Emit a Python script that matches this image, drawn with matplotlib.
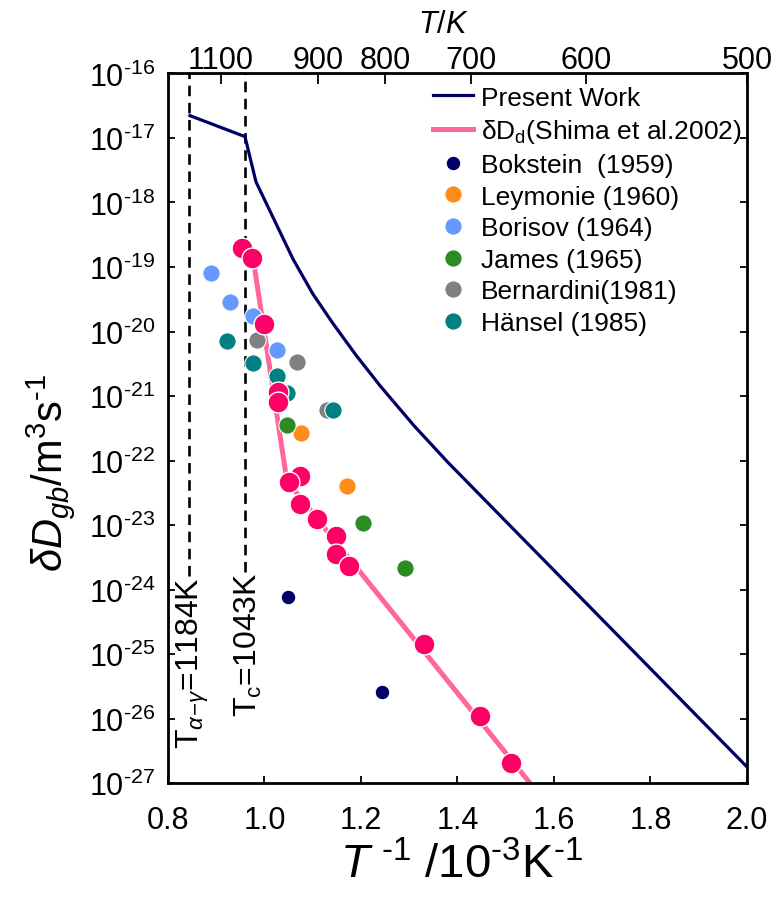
import numpy as np
import matplotlib
matplotlib.use('Agg')
import matplotlib.pyplot as plt

plt.rcParams['font.family'] = ['Liberation Sans', 'DejaVu Sans']
plt.rcParams['mathtext.fontset'] = 'custom'
plt.rcParams['mathtext.rm'] = 'Liberation Sans'
plt.rcParams['mathtext.it'] = 'Liberation Sans:italic'
plt.rcParams['mathtext.sf'] = 'Liberation Sans'
plt.rcParams['mathtext.bf'] = 'Liberation Sans:bold'

# present work curve (1000/T, delta*Dgb)
pw_x = [0.8456, 0.9596, 0.9824, 1.0591, 1.1005, 1.142, 1.19, 1.24,
        1.31, 1.38, 1.45, 2.0]
pw_y = [2.22e-17, 1.05e-17, 2.09e-18, 1.33e-19, 3.8e-20, 1.33e-20, 4.27e-21, 1.43e-21,
        3.46e-22, 9.4e-23, 2.75e-23, 1.78e-27]

# Shima et al. 2002 fit and points
shima_x = [0.975, 1.0466, 1.56]
shima_y = [1.6e-19, 4.8e-23, 8.1e-28]
shima_px = [0.9534, 0.9741, 0.9990, 1.0280, 1.0280, 1.0736, 1.0508, 1.0736,
            1.1088, 1.1482, 1.1482, 1.1751, 1.3306, 1.4466, 1.5109]
shima_py = [1.95e-19, 1.38e-19, 1.32e-20, 1.15e-21, 8.1e-22, 5.75e-23, 4.7e-23, 2.14e-23,
            1.23e-23, 6.8e-24, 3.55e-24, 2.3e-24, 1.41e-25, 1.1e-26, 2.04e-27]

# literature data
bokstein_x = [1.0487, 1.2435]
bokstein_y = [7.6e-25, 2.6e-26]
leymonie_x = [1.0756, 1.1710]
leymonie_y = [2.7e-22, 4.0e-23]
borisov_x = [0.8891, 0.9285, 0.9762, 1.0259]
borisov_y = [8.1e-20, 2.9e-20, 1.74e-20, 5.1e-21]
james_x = [1.0466, 1.2041, 1.2912]
james_y = [3.55e-22, 1.07e-23, 2.14e-24]
bernardini_x = [0.9845, 1.0674, 1.1295]
bernardini_y = [7.4e-21, 3.4e-21, 6.0e-22]
hansel_x = [0.9223, 0.9762, 1.0259, 1.0466, 1.1420]
hansel_y = [7.1e-21, 3.2e-21, 2.04e-21, 1.12e-21, 6.0e-22]

T_top = [1100, 900, 800, 700, 600, 500]
T_alpha_gamma = 1184
T_curie = 1043

fig = plt.figure(figsize=(7.82, 9.04), dpi=100)
ax = fig.add_axes([0.2148, 0.1327, 0.7404, 0.7849])

ax.plot(pw_x, pw_y, color='#000066', lw=2.3, zorder=2, label='Present Work')
ax.plot(shima_x, shima_y, color='#ff6699', lw=3.6, zorder=2,
        label='δD$_{\\rm d}$(Shima et al.2002)')

dots = [
    (bokstein_x, bokstein_y, '#000066', 10.5, 'Bokstein  (1959)'),
    (leymonie_x, leymonie_y, '#ff8c1a', 12.5, 'Leymonie (1960)'),
    (borisov_x, borisov_y, '#6699ff', 12.5, 'Borisov (1964)'),
    (james_x, james_y, '#2a8c22', 12.5, 'James (1965)'),
    (bernardini_x, bernardini_y, '#808080', 12.5, 'Bernardini(1981)'),
    (hansel_x, hansel_y, '#008080', 12.5, 'Hänsel (1985)'),
]
for xs, ys, c, ms, lab in dots:
    ax.plot(xs, ys, 'o', color=c, ms=ms, mec='white', mew=0.8, zorder=3, label=lab)

ax.plot(shima_px, shima_py, 'o', color='#ff0066', ms=15, mec='white', mew=1.0, zorder=5)

# transition temperatures
for T, lab, ytop in [(T_alpha_gamma, 'T$_{\\alpha\\!-\\!\\gamma}$=1184K', 1.6e-24),
                     (T_curie, 'T$_{\\rm c}$=1043K', 1.9e-24)]:
    xv = 1000.0 / T
    ax.plot([xv, xv], [ytop, 1e-16], color='k', ls=(0, (4, 2.5)), lw=1.9, zorder=1)
    ax.text(xv + 0.008, ytop, lab, rotation=90, ha='center', va='top', fontsize=23)

ax.set_yscale('log')
ax.set_xlim(0.8, 2.0)
ax.set_ylim(1e-27, 1e-16)
ax.set_yticks(10.0 ** np.arange(-27, -15))
ax.yaxis.set_minor_locator(matplotlib.ticker.NullLocator())
ax.yaxis.set_major_formatter(matplotlib.ticker.FuncFormatter(
    lambda v, p: '10$^{\\text{-}%d}$' % round(-np.log10(v))))
ax.set_xticks([0.8, 1.0, 1.2, 1.4, 1.6, 1.8, 2.0])
ax.xaxis.set_major_formatter(matplotlib.ticker.FormatStrFormatter('%.1f'))
ax.tick_params(direction='in', length=5, width=1.3, labelsize=22, right=True)
ax.tick_params(axis='x', pad=16)
ax.tick_params(axis='y', pad=9)
for s in ax.spines.values():
    s.set_linewidth(2)

ax2 = ax.twiny()
ax2.set_xlim(ax.get_xlim())
ax2.set_xticks([1000.0 / t for t in T_top])
ax2.set_xticklabels([str(t) for t in T_top])
ax2.tick_params(direction='in', length=8, width=1.3, labelsize=22, pad=-1)
ax2.set_xlabel('$T$/$K$', fontsize=22)
ax2.xaxis.set_label_coords(0.475, 1.058)

ax.set_ylabel('$\\delta D_{gb}$/m$^3$s$^{\\text{-}1}$', fontsize=30)
ax.yaxis.set_label_coords(-0.157, 0.438)
ax.set_xlabel('$T^{\\ \\text{-}1}$ /10$^{\\text{-}3}$K$^{\\text{-}1}$', fontsize=34)
ax.xaxis.set_label_coords(0.508, -0.083)

ax.legend(loc='upper left', bbox_to_anchor=(0.458, 0.983), frameon=False,
          fontsize=19, borderpad=0, borderaxespad=0, handlelength=1.5,
          handletextpad=0.3, labelspacing=0.29)

fig.savefig('out.png', dpi=100)
